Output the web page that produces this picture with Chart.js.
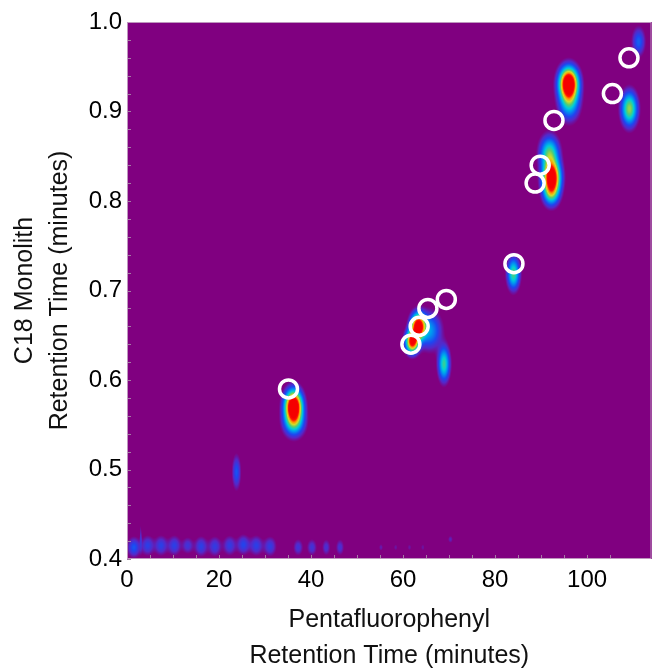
<!DOCTYPE html>
<html>
<head>
<meta charset="utf-8">
<script src="https://cdn.jsdelivr.net/npm/chart.js@4.4.1/dist/chart.umd.min.js"></script>
<style>
  html, body { margin: 0; padding: 0; background: #fff; }
</style>
</head>
<body>
<canvas id="chart" width="664" height="669"></canvas>
<script>
// Predicted retention times (white rings)
const circleX = [35.1, 61.7, 63.5, 65.4, 69.4, 84.1, 88.7, 89.8, 92.8, 105.5, 109.1];
const circleY = [0.59, 0.64, 0.66, 0.68, 0.69, 0.73, 0.82, 0.84, 0.89, 0.92, 0.96];

// Measured 2D peaks: position, width (minutes) and relative height
const peakX      = [111.2, 96.0, 96.1, 109.2, 92.3, 91.8, 92.2, 84.0, 63.3, 62.0, 65.8, 68.9, 36.2, 36.3, 23.8,
                    1.5, 4.5, 7.4, 10.3, 13.2, 16.1, 19.1, 22.3, 25.3, 28.1, 31.1, 37.2, 40.2, 43.3, 46.3,
                    55.2, 58.4, 61.4, 64.3, 70.3, 3.0];
const peakY      = [0.978, 0.932, 0.912, 0.903, 0.826, 0.853, 0.808, 0.719, 0.660, 0.643, 0.655, 0.618, 0.571, 0.553, 0.497,
                    0.413, 0.415, 0.415, 0.415, 0.415, 0.414, 0.414, 0.415, 0.416, 0.415, 0.414, 0.413, 0.413, 0.413, 0.413,
                    0.413, 0.413, 0.413, 0.413, 0.422, 0.425];
const peakWidthX = [0.9, 1.3, 1.4, 1.1, 1.2, 1.3, 1.1, 0.85, 1.0, 0.9, 1.6, 0.8, 1.2, 1.4, 0.6,
                    0.9, 0.9, 0.9, 0.9, 0.8, 0.9, 0.9, 0.9, 0.9, 0.9, 0.9, 0.7, 0.7, 0.6, 0.6,
                    0.35, 0.35, 0.35, 0.35, 0.4, 0.15];
const peakWidthY = [0.010, 0.011, 0.013, 0.012, 0.012, 0.012, 0.009, 0.011, 0.009, 0.008, 0.013, 0.012, 0.011, 0.010, 0.012,
                    0.007, 0.007, 0.007, 0.007, 0.006, 0.007, 0.007, 0.007, 0.007, 0.007, 0.007, 0.006, 0.006, 0.006, 0.006,
                    0.003, 0.003, 0.003, 0.003, 0.003, 0.010];
const peakHeight = [0.22, 1.2, 0.45, 0.58, 1.15, 0.5, 0.35, 0.5, 1.1, 1.0, 0.3, 0.47, 1.25, 0.45, 0.2,
                    0.2, 0.16, 0.16, 0.16, 0.13, 0.16, 0.15, 0.15, 0.17, 0.16, 0.15, 0.13, 0.13, 0.12, 0.12,
                    0.08, 0.07, 0.07, 0.07, 0.09, 0.09];

const xLabels = ['0', '20', '40', '60', '80', '100'];
const yLabels = ['0.4', '0.5', '0.6', '0.7', '0.8', '0.9', '1.0'];

const FONT = "'Liberation Sans', Arial, sans-serif";

// Mapa de colores tipo "jet" con fondo púrpura
const stops = [
    [0.00, 128, 0, 128],
    [0.04, 128, 0, 128],
    [0.10, 85, 40, 200],
    [0.18, 30, 70, 240],
    [0.30, 0, 150, 240],
    [0.40, 0, 205, 215],
    [0.52, 90, 205, 110],
    [0.64, 210, 220, 40],
    [0.76, 255, 150, 0],
    [0.88, 255, 20, 0],
    [1.00, 245, 0, 0]
];

function colorAt(v) {
    if (v <= stops[0][0]) return stops[0].slice(1);
    for (let i = 1; i < stops.length; i++) {
        if (v <= stops[i][0]) {
            const a = stops[i - 1], b = stops[i];
            const t = (v - a[0]) / (b[0] - a[0]);
            return [a[1] + (b[1] - a[1]) * t, a[2] + (b[2] - a[2]) * t, a[3] + (b[3] - a[3]) * t];
        }
    }
    return stops[stops.length - 1].slice(1);
}

const heatmapPlugin = {
    id: 'heatmap',
    beforeDatasetsDraw(chart) {
        const { ctx, chartArea: a, scales: { x, y } } = chart;
        const w = Math.round(a.right - a.left);
        const h = Math.round(a.bottom - a.top);
        const field = new Float32Array(w * h);

        peakX.forEach((px, i) => {
            const cx = x.getPixelForValue(px) - a.left;
            const cy = y.getPixelForValue(peakY[i]) - a.top;
            const sx = Math.abs(x.getPixelForValue(px + peakWidthX[i]) - x.getPixelForValue(px));
            const sy = Math.abs(y.getPixelForValue(peakY[i] + peakWidthY[i]) - y.getPixelForValue(peakY[i]));
            const x0 = Math.max(0, Math.floor(cx - 4 * sx)), x1 = Math.min(w - 1, Math.ceil(cx + 4 * sx));
            const y0 = Math.max(0, Math.floor(cy - 4 * sy)), y1 = Math.min(h - 1, Math.ceil(cy + 4 * sy));
            for (let j = y0; j <= y1; j++) {
                const dy = (j + 0.5 - cy) / sy;
                for (let k = x0; k <= x1; k++) {
                    const dx = (k + 0.5 - cx) / sx;
                    field[j * w + k] += peakHeight[i] * Math.exp(-0.5 * (dx * dx + dy * dy));
                }
            }
        });

        const off = document.createElement('canvas');
        off.width = w;
        off.height = h;
        const octx = off.getContext('2d');
        const img = octx.createImageData(w, h);
        for (let p = 0; p < w * h; p++) {
            const c = colorAt(Math.min(1, field[p]));
            img.data[p * 4] = c[0];
            img.data[p * 4 + 1] = c[1];
            img.data[p * 4 + 2] = c[2];
            img.data[p * 4 + 3] = 255;
        }
        octx.putImageData(img, 0, 0);
        ctx.drawImage(off, a.left, a.top, a.right - a.left, a.bottom - a.top);
    }
};

// Marco y marcas interiores
const framePlugin = {
    id: 'frame',
    afterDatasetsDraw(chart) {
        const { ctx, chartArea: a, scales: { x, y } } = chart;
        ctx.save();
        ctx.strokeStyle = 'rgba(165,125,165,1)';
        ctx.lineWidth = 1;
        ctx.beginPath();
        x.ticks.forEach(t => {
            if (Math.abs(t.value / 5 - Math.round(t.value / 5)) > 1e-6) return;
            const px = Math.round(x.getPixelForValue(t.value)) + 0.5;
            ctx.moveTo(px, a.bottom);
            ctx.lineTo(px, a.bottom - 4);
        });
        y.ticks.forEach(t => {
            const py = Math.round(y.getPixelForValue(t.value)) + 0.5;
            ctx.moveTo(a.left, py);
            ctx.lineTo(a.left + 4, py);
        });
        ctx.stroke();
        ctx.strokeStyle = 'rgba(190,150,190,1)';
        ctx.strokeRect(a.left + 0.5, a.top + 0.5, a.right - a.left - 1, a.bottom - a.top - 1);
        ctx.restore();
    }
};

new Chart(document.getElementById('chart'), {
    type: 'scatter',
    data: {
        datasets: [{
            data: circleX.map((v, i) => ({ x: v, y: circleY[i] })),
            pointRadius: 9,
            pointHoverRadius: 9,
            borderWidth: 3.5,
            borderColor: '#ffffff',
            backgroundColor: 'rgba(0,0,0,0)'
        }]
    },
    options: {
        responsive: false,
        animation: false,
        events: [],
        layout: { padding: { top: 22, right: 1, left: 0, bottom: 0 } },
        plugins: { legend: { display: false }, tooltip: { enabled: false } },
        scales: {
            x: {
                type: 'linear',
                min: 0,
                max: 114,
                afterFit: (s) => { s.height = 110; },
                grid: { display: false, drawTicks: false },
                border: { display: false },
                ticks: {
                    stepSize: 5,
                    autoSkip: false,
                    maxRotation: 0,
                    padding: 0,
                    color: '#000',
                    font: { family: FONT, size: 24, lineHeight: 1.75 },
                    callback: (v) => xLabels.includes(String(v)) ? String(v) : ''
                },
                title: {
                    display: true,
                    text: ['Pentafluorophenyl', 'Retention Time (minutes)'],
                    color: '#111',
                    font: { family: FONT, size: 25, lineHeight: 1.45 },
                    padding: { top: 0, bottom: -5 }
                }
            },
            y: {
                type: 'linear',
                min: 0.4,
                max: 1.0,
                afterFit: (s) => { s.width = 127; },
                grid: { display: false, drawTicks: false },
                border: { display: false },
                ticks: {
                    stepSize: 0.02,
                    autoSkip: false,
                    padding: 5,
                    color: '#000',
                    font: { family: FONT, size: 24 },
                    callback: (v) => {
                        const s = v.toFixed(1);
                        return (Math.abs(v * 10 - Math.round(v * 10)) < 1e-6 && yLabels.includes(s)) ? s : '';
                    }
                },
                title: {
                    display: true,
                    text: ['C18 Monolith', 'Retention Time (minutes)'],
                    color: '#111',
                    font: { family: FONT, size: 25, lineHeight: 1.4 },
                    padding: { top: 8, bottom: 0 }
                }
            }
        }
    },
    plugins: [heatmapPlugin, framePlugin]
});
</script>
</body>
</html>
